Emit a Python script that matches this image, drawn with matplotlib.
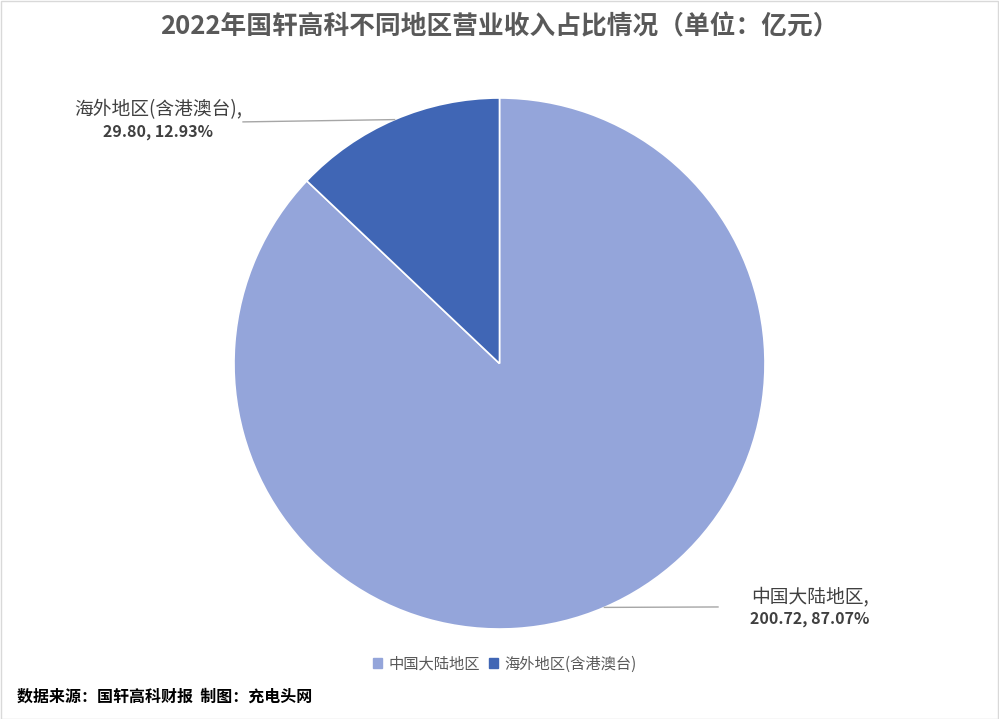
import matplotlib.pyplot as plt
import numpy as np

plt.rcParams['font.family'] = ['Noto Sans CJK SC', 'DejaVu Sans']

regions = ['中国大陆地区', '海外地区(含港澳台)']
revenue = [200.72, 29.80]
colors = ['#94A5DA', '#4066B5']

W, H = 999, 719
fig = plt.figure(figsize=(W / 100, H / 100), dpi=100)

# pie centre and radius in pixels
cx, cy, r = 499.5, 363.5, 265.5
ax = fig.add_axes([(cx - r) / W, 1 - (cy + r) / H, 2 * r / W, 2 * r / H])
wedges, _ = ax.pie(revenue, colors=colors, startangle=90, counterclock=False,
                   radius=1, wedgeprops=dict(edgecolor='white', linewidth=1.2))
ax.set_xlim(-1, 1)
ax.set_ylim(-1, 1)
ax.set_aspect('auto')
ax.axis('off')

total = sum(revenue)
pct = [v / total * 100 for v in revenue]

# leader line end points (data coords) and label centres (pixels)
line_ends = [(0.823, -0.917), (-0.966, 0.910)]
label_pos = [(810, 597), (158, 110)]

for w, end, (lx, ly), name, v, p in zip(wedges, line_ends, label_pos, regions, revenue, pct):
    ang = np.deg2rad((w.theta1 + w.theta2) / 2)
    x0, y0 = np.cos(ang), np.sin(ang)
    ax.plot([x0, end[0]], [y0, end[1]], color='#A6A6A6', lw=1, clip_on=False)
    fig.text(lx / W, 1 - ly / H, name + ',', ha='center', va='center',
             fontsize=13.5, color='#404040')
    fig.text(lx / W, 1 - (ly + 22) / H, f'{v:.2f}, {p:.2f}%', ha='center', va='center',
             fontsize=11.5, color='#404040', fontweight='bold')

fig.text(cx / W, 1 - 27 / H, '2022年国轩高科不同地区营业收入占比情况（单位：亿元）',
         ha='center', va='center', fontsize=18.5, fontweight='bold', color='#595959')

handles = [plt.Rectangle((0, 0), 1, 1, color=c) for c in colors]
fig.legend(handles, regions, loc='center', bbox_to_anchor=(505 / W, 1 - 664 / H),
           ncol=2, frameon=False, fontsize=11, labelcolor='#595959',
           handlelength=0.6, handleheight=0.6, handletextpad=0.4, columnspacing=0.6)

fig.text(17 / W, 1 - 697 / H, '数据来源：国轩高科财报  制图：充电头网', ha='left', va='center',
         fontsize=11.5, fontweight='bold', color='black')

# thin frame around the picture
fig.add_artist(plt.Rectangle((0.5 / W, 0.5 / H), 1 - 1.5 / W, 1 - 1.5 / H,
                             transform=fig.transFigure, fill=False,
                             edgecolor='#D9D9D9', lw=1))

fig.savefig('out.png', dpi=100, facecolor='white')
